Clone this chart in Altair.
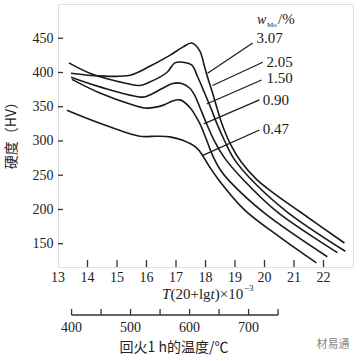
import altair as alt
import pandas as pd

# ---- data ----
series = ["3.07", "2.05", "1.50", "0.90", "0.47"]

P_307 = [13.44, 14.42, 15.44, 16.11, 16.79, 17.23, 17.53, 17.80, 17.97, 18.07, 18.24, 18.55, 18.85, 19.20, 19.73, 20.40, 21.19, 22.71]
HV_307 = [399, 395, 396, 409, 425, 437, 443, 432, 408, 393, 370, 326, 295, 270, 244, 221, 197, 151]

P_205 = [13.37, 14.08, 15.33, 15.77, 16.11, 16.69, 16.96, 17.23, 17.53, 17.74, 17.97, 18.21, 18.38, 18.65, 18.95, 19.50, 20.75, 22.74]
HV_205 = [414, 399, 384, 381, 386, 400, 414, 415, 411, 393, 370, 345, 326, 300, 275, 246, 197, 139]

P_150 = [13.44, 14.42, 15.88, 16.11, 16.55, 16.89, 17.19, 17.47, 17.63, 17.80, 18.00, 18.30, 18.65, 19.29, 20.44, 22.47]
HV_150 = [393, 379, 364, 367, 377, 384, 384, 377, 367, 350, 329, 300, 275, 243, 196, 137]

P_090 = [13.47, 14.42, 15.44, 16.01, 16.55, 16.86, 17.13, 17.47, 17.80, 18.04, 18.24, 18.50, 18.82, 19.99, 22.13]
HV_090 = [390, 370, 354, 348, 352, 358, 360, 349, 326, 301, 279, 258, 241, 195, 131]

P_047 = [13.30, 14.42, 15.77, 16.35, 16.79, 17.23, 17.70, 17.91, 18.14, 18.45, 19.33, 20.51, 21.76]
HV_047 = [345, 326, 307, 307, 306, 301, 290, 278, 262, 243, 199, 160, 122]

# leader lines (label end -> curve end) and label anchors
lead_P1 = [19.60, 19.94, 19.90, 19.83, 19.83]
lead_HV1 = [443, 415, 389, 360, 316]
lead_P2 = [18.07, 18.24, 18.04, 17.94, 17.91]
lead_HV2 = [399, 381, 354, 325, 279]
lab_P = [19.73, 20.07, 20.07, 19.94, 19.94]
lab_HV = [450, 416, 392, 360, 317]

x_ticks = [13, 14, 15, 16, 17, 18, 19, 20, 21, 22]
y_ticks = [150, 200, 250, 300, 350, 400, 450]
temp_ticks = [400, 450, 500, 550, 600, 650, 700, 750]
temp_labels = [400, 500, 600, 700]

# ---- tables ----
rows = []
for name, ps, hs in zip(series, [P_307, P_205, P_150, P_090, P_047],
                        [HV_307, HV_205, HV_150, HV_090, HV_047]):
    for i, (p, h) in enumerate(zip(ps, hs)):
        rows.append({"s": name, "P": p, "HV": h, "i": i})
curves = pd.DataFrame(rows)
leaders = pd.DataFrame({"s": series, "P1": lead_P1, "HV1": lead_HV1, "P2": lead_P2, "HV2": lead_HV2})
labels = pd.DataFrame({"s": series, "P": lab_P, "HV": lab_HV})
xt = pd.DataFrame({"P": x_ticks})
xt["lab"] = xt["P"].astype(str)
yt = pd.DataFrame({"HV": y_ticks})
# tempering temperature (°C) for 1 h -> T(20+lg t)*1e-3 with T in K
tt = pd.DataFrame({"C": temp_ticks})
tt["P"] = (tt["C"] + 273) * 20 / 1000
tl = pd.DataFrame({"C": temp_labels})
tl["P"] = (tl["C"] + 273) * 20 / 1000
tl["lab"] = tl["C"].astype(str)
tline = pd.DataFrame({"P1": [tt["P"].min()], "P2": [tt["P"].max()]})

SERIF = "Liberation Serif"
CJK = "Noto Sans CJK SC"
INK = "#1a1a1a"

xs = alt.Scale(domain=[13, 23], nice=False, zero=False)
ys = alt.Scale(domain=[116, 500], nice=False, zero=False)

lines = alt.Chart(curves).mark_line(color=INK, strokeWidth=1.6, interpolate="catmull-rom").encode(
    x=alt.X("P:Q", scale=xs, axis=None),
    y=alt.Y("HV:Q", scale=ys, axis=alt.Axis(values=y_ticks, ticks=False, tickSize=0, domain=False, grid=False,
                                            labelFont=SERIF, labelFontSize=14, labelColor="#222",
                                            labelPadding=5, labelFlush=False, labelOverlap=False, title=None)),
    detail="s:N",
    order="i:Q",
)

lead = alt.Chart(leaders).mark_rule(color=INK, strokeWidth=1.2).encode(
    x=alt.X("P1:Q", scale=xs), y=alt.Y("HV1:Q", scale=ys), x2="P2:Q", y2="HV2:Q")

labs = alt.Chart(labels).mark_text(font=SERIF, fontSize=15, align="left", baseline="middle", color=INK).encode(
    x=alt.X("P:Q", scale=xs), y=alt.Y("HV:Q", scale=ys), text="s:N")

xtick = alt.Chart(xt[xt["P"] > 13]).mark_rule(color="#333", strokeWidth=1.3).encode(
    x=alt.X("P:Q", scale=xs), y=alt.value(263), y2=alt.value(256))
xlab = alt.Chart(xt).mark_text(font=SERIF, fontSize=14, baseline="middle", color="#222").encode(
    x=alt.X("P:Q", scale=xs), y=alt.value(274), text="lab:N")
ytick = alt.Chart(yt).mark_rule(color="#333", strokeWidth=1.3).encode(
    y=alt.Y("HV:Q", scale=ys), x=alt.value(0), x2=alt.value(5))

t_line = alt.Chart(tline).mark_rule(color="#333", strokeWidth=1.3).encode(
    x=alt.X("P1:Q", scale=xs), x2="P2:Q", y=alt.value(311))
t_tick = alt.Chart(tt).mark_rule(color="#333", strokeWidth=1.3).encode(
    x=alt.X("P:Q", scale=xs), y=alt.value(311), y2=alt.value(305))
t_lab = alt.Chart(tl).mark_text(font=SERIF, fontSize=14, baseline="middle", color="#222").encode(
    x=alt.X("P:Q", scale=xs), y=alt.value(324), text="lab:N")

def txt(s, x, y, **kw):
    props = dict(font=SERIF, fontSize=15, align="left", baseline="middle", color="#222")
    props.update(kw)
    return alt.Chart(pd.DataFrame({"t": [s]})).mark_text(**props).encode(
        x=alt.value(x), y=alt.value(y), text="t:N")

x0 = 104
title_parts = [
    txt("T", x0, 290, fontStyle="italic"),
    txt("(20+lg", x0 + 8.5, 290),
    txt("t", x0 + 48.6, 290, fontStyle="italic"),
    txt(")×10", x0 + 52.8, 290),
    txt("−3", x0 + 82, 284, fontSize=9),
]
legend_title = [
    txt("w", 199, 16, fontStyle="italic", fontSize=14),
    txt("Mo", 209, 21, fontSize=7),
    txt("/%", 220, 15, fontSize=15),
]
ytitle = txt("硬度（HV）", -46, 128, font=CJK, fontSize=14, angle=270, align="center")
btitle = txt("回火1 h的温度/℃", 116, 344, font=CJK, fontSize=14, align="center")
wmark = txt("材易通", 275, 341, font=CJK, fontSize=11, align="center", color="#888")

chart = alt.layer(
    lines, lead, labs, xtick, xlab, ytick, t_line, t_tick, t_lab,
    *title_parts, *legend_title, ytitle, btitle, wmark,
).properties(
    width=295, height=263,
    padding={"left": 58, "top": 4, "right": 7, "bottom": 94},
    autosize="none",
).configure_view(stroke="#333", strokeWidth=1.5).configure(background="white")

chart.save("out.html", embed_options={"renderer": "svg", "actions": False})
